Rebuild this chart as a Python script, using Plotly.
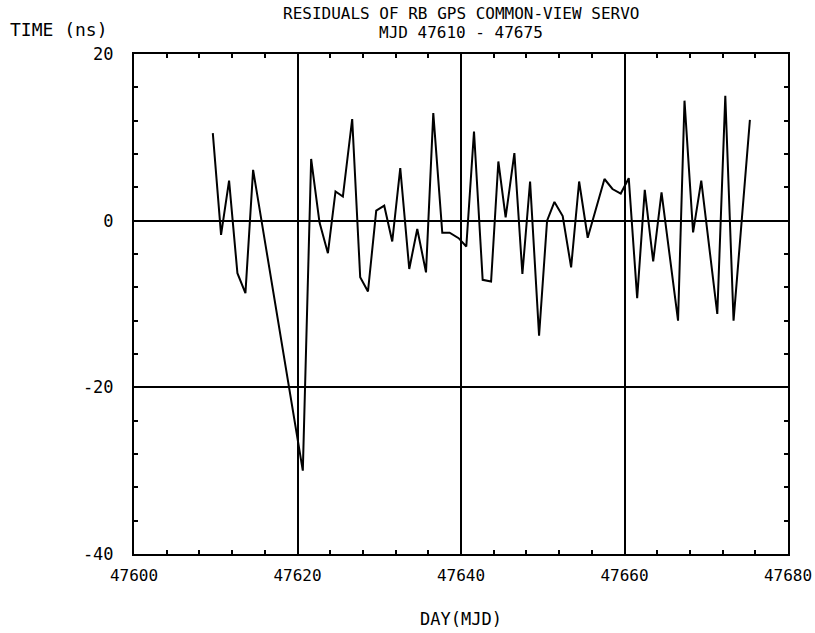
import plotly.graph_objects as go

# Data (MJD, residual in ns)
mjd = [47609.64, 47610.65, 47611.63, 47612.65, 47613.63, 47614.57, 47620.65,
       47621.67, 47622.69, 47623.72, 47624.65, 47625.55, 47626.69, 47627.67,
       47628.62, 47629.63, 47630.61, 47631.59, 47632.57, 47633.67, 47634.65,
       47635.72, 47636.61, 47637.71, 47638.61, 47639.71, 47640.65, 47641.59,
       47642.65, 47643.68, 47644.57, 47645.46, 47646.53, 47647.51, 47648.45,
       47649.55, 47650.53, 47651.43, 47652.44, 47653.47, 47654.45, 47655.50,
       47657.55, 47658.53, 47659.54, 47660.52, 47661.55, 47662.48, 47663.51,
       47664.53, 47666.55, 47667.34, 47668.39, 47669.39, 47671.35, 47672.33,
       47673.34, 47675.34]
resid_ns = [10.5, -1.7, 4.8, -6.3, -8.7, 6.1, -30.0,
            7.4, -0.2, -3.9, 3.5, 2.9, 12.2, -6.8,
            -8.5, 1.2, 1.8, -2.5, 6.3, -5.8, -1.0,
            -6.2, 12.9, -1.45, -1.45, -2.1, -3.1, 10.7,
            -7.1, -7.3, 7.1, 0.4, 8.1, -6.4, 4.7,
            -13.8, 0.0, 2.25, 0.55, -5.6, 4.7, -2.05,
            5.0, 3.8, 3.25, 5.1, -9.3, 3.7, -4.9,
            3.4, -12.0, 14.4, -1.4, 4.8, -11.2, 15.0,
            -12.0, 12.1]

x_ticks = [47600, 47620, 47640, 47660, 47680]
y_ticks = [-40, -20, 0, 20]

title_line1 = "RESIDUALS OF RB GPS COMMON-VIEW SERVO"
title_line2 = "MJD 47610 - 47675"
y_label = "TIME (ns)"
x_label = "DAY(MJD)"

FONT = "DejaVu Sans Mono"

fig = go.Figure()
fig.add_trace(go.Scatter(x=mjd, y=resid_ns, mode="lines",
                         line=dict(color="black", width=2), showlegend=False,
                         hoverinfo="x+y"))

axis_common = dict(
    showline=True, mirror="ticks", linecolor="black", linewidth=2,
    showgrid=True, gridcolor="black", gridwidth=1.5,
    ticks="inside", ticklen=6, tickwidth=1.5, tickcolor="black",
    ticklabeloverflow="allow", automargin=False,
    minor=dict(ticks="inside", ticklen=4, tickwidth=1.5, tickcolor="black",
               showgrid=False),
)

fig.update_xaxes(range=[47600, 47680], tickvals=x_ticks,
                 ticktext=[str(v) for v in x_ticks], zeroline=False,
                 minor_dtick=4, minor_tick0=47600, ticklabelstandoff=6,
                 tickfont=dict(family=FONT, size=16, color="black"),
                 **axis_common)
fig.update_yaxes(range=[-40, 20], tickvals=y_ticks,
                 ticktext=[str(v) for v in y_ticks],
                 zeroline=True, zerolinecolor="black", zerolinewidth=1.5,
                 minor_dtick=4, minor_tick0=0, ticklabelstandoff=15,
                 tickfont=dict(family=FONT, size=17, color="black"),
                 **axis_common)

fig.update_layout(
    width=815, height=633,
    margin=dict(l=134, r=27, t=54, b=79),
    paper_bgcolor="white", plot_bgcolor="white",
    font=dict(family=FONT, size=17, color="black"),
    annotations=[
        dict(text=title_line1, xref="paper", yref="paper", x=0.5, y=1,
             yshift=41, xanchor="center", yanchor="middle", showarrow=False,
             font=dict(family=FONT, size=16)),
        dict(text=title_line2, xref="paper", yref="paper", x=0.5, y=1,
             yshift=22, xanchor="center", yanchor="middle", showarrow=False,
             font=dict(family=FONT, size=16)),
        dict(text=y_label, xref="paper", yref="paper", x=0, y=1,
             xshift=-126, yshift=25, xanchor="left", yanchor="middle",
             showarrow=False, font=dict(family=FONT, size=18)),
        dict(text=x_label, xref="paper", yref="paper", x=0.5, y=0,
             yshift=-65, xanchor="center", yanchor="middle", showarrow=False,
             font=dict(family=FONT, size=17)),
    ],
)

fig.write_html(
    "out.html",
    config={"displayModeBar": False},
    post_script="document.body.style.margin='0';document.body.style.overflow='hidden';",
)
